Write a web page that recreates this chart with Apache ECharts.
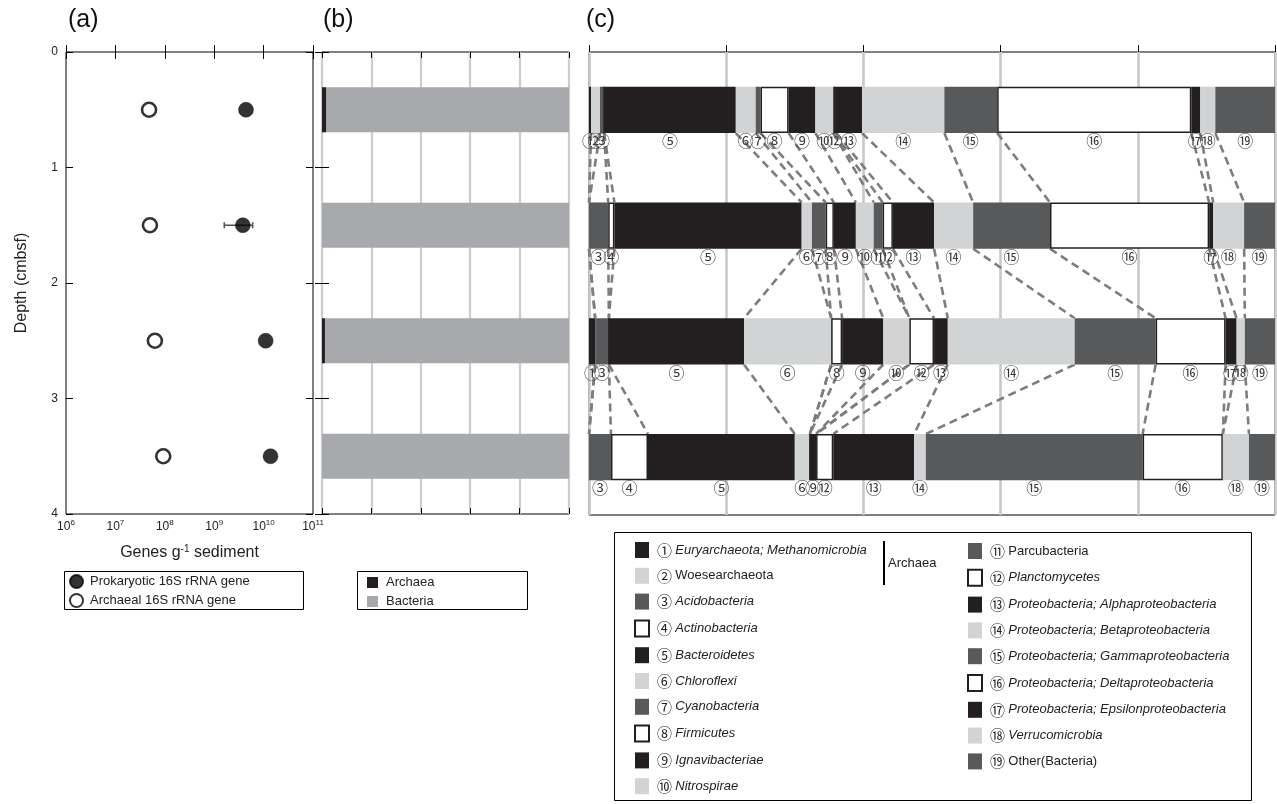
<!DOCTYPE html>
<html><head><meta charset="utf-8">
<script src="https://cdn.jsdelivr.net/npm/echarts@6/dist/echarts.min.js"></script>
<style>html,body{margin:0;padding:0;background:#fff}#main{width:1277px;height:804px}</style>
</head><body><div id="main"></div>
<script>
// ---------- DATA ----------
const depths = [0.5, 1.5, 2.5, 3.5];
const depthCats = ['0.5', '1.5', '2.5', '3.5'];
const prokaryotic = [4.4e9, 3.8e9, 1.1e10, 1.38e10];
const prokErrLow = [null, 1.6e9, null, null];
const prokErrHigh = [null, 6.0e9, null, null];
const archaeal16S = [4.8e7, 5.0e7, 6.3e7, 9.3e7];
const archaeaPct = [1.8, 0, 1.2, 0];
const bacteriaPct = [98.2, 100, 98.8, 100];
const taxa = ['Euryarchaeota; Methanomicrobia', 'Woesearchaeota', 'Acidobacteria', 'Actinobacteria',
  'Bacteroidetes', 'Chloroflexi', 'Cyanobacteria', 'Firmicutes', 'Ignavibacteriae', 'Nitrospirae',
  'Parcubacteria', 'Planctomycetes', 'Proteobacteria; Alphaproteobacteria', 'Proteobacteria; Betaproteobacteria',
  'Proteobacteria; Gammaproteobacteria', 'Proteobacteria; Deltaproteobacteria', 'Proteobacteria; Epsilonproteobacteria',
  'Verrucomicrobia', 'Other(Bacteria)'];
const circled = ['①','②','③','④','⑤','⑥','⑦','⑧','⑨','⑩','⑪','⑫','⑬','⑭','⑮','⑯','⑰','⑱','⑲'];
const uprightTaxa = ['Woesearchaeota', 'Parcubacteria', 'Other(Bacteria)'];
// relative abundance (%) per taxon, rows = depth 0.5, 1.5, 2.5, 3.5
const row1 = [0.3, 1.3, 0.6, 0, 19.2, 2.9, 0.7, 4.1, 3.9, 2.6, 0, 0.4, 3.8, 12.0, 7.7, 28.3, 1.3, 2.2, 8.7];
const row2 = [0, 0, 2.8, 0.9, 27.3, 1.5, 2.0, 1.2, 3.2, 2.6, 1.3, 1.5, 6.0, 5.7, 11.2, 23.2, 0.6, 4.5, 4.5];
const row3 = [0.9, 0, 2.0, 0, 19.7, 12.7, 0, 1.6, 6.0, 3.8, 0, 3.6, 2.0, 18.5, 11.8, 10.2, 1.6, 1.2, 4.4];
const row4 = [0, 0, 3.2, 5.4, 21.4, 2.2, 0, 0, 0.9, 0, 0, 2.5, 11.8, 1.7, 31.6, 11.7, 0, 3.8, 3.8];

// ---------- STYLE ----------
const FONT = 'Liberation Sans, Arial, Helvetica, sans-serif';
const CJK = 'Noto Sans CJK JP';
const BLACK = '#231f20', LIGHT = '#d1d3d4', DARK = '#58595b';
const cycle = [
  {color: BLACK},
  {color: LIGHT},
  {color: DARK},
  {color: '#ffffff', borderColor: '#231f20', borderWidth: 1.5}
];
const rows = [row1, row2, row3, row4];

const chart = echarts.init(document.getElementById('main'));

const series = [];
series.push({
  name: 'Prokaryotic 16S rRNA gene', type: 'scatter', xAxisIndex: 0, yAxisIndex: 0,
  symbol: 'circle', symbolSize: 15, z: 5,
  itemStyle: {color: '#000', borderColor: '#000', borderWidth: 0.5},
  data: depths.map((d, i) => [prokaryotic[i], d])
});
series.push({
  name: 'Archaeal 16S rRNA gene', type: 'scatter', xAxisIndex: 0, yAxisIndex: 0,
  symbol: 'circle', symbolSize: 14, z: 5,
  itemStyle: {color: '#fff', borderColor: '#000', borderWidth: 2.6},
  data: depths.map((d, i) => [archaeal16S[i], d])
});
series.push({
  type: 'custom', xAxisIndex: 0, yAxisIndex: 0, z: 3, silent: true,
  encode: {x: [0, 2], y: 1},
  data: depths.map((d, i) => prokErrLow[i] == null ? null : [prokErrLow[i], d, prokErrHigh[i]]).filter(v => v),
  renderItem: (params, api) => {
    const p1 = api.coord([api.value(0), api.value(1)]);
    const p2 = api.coord([api.value(2), api.value(1)]);
    const st = {stroke: '#555', lineWidth: 1.6};
    return {type: 'group', children: [
      {type: 'line', shape: {x1: p1[0], y1: p1[1], x2: p2[0], y2: p2[1]}, style: st},
      {type: 'line', shape: {x1: p1[0], y1: p1[1] - 3, x2: p1[0], y2: p1[1] + 3}, style: st},
      {type: 'line', shape: {x1: p2[0], y1: p2[1] - 3, x2: p2[0], y2: p2[1] + 3}, style: st}
    ]};
  }
});
// panel (b)
series.push({name: 'Archaea', type: 'bar', stack: 'b', xAxisIndex: 2, yAxisIndex: 2, barWidth: '39%',
  itemStyle: {color: BLACK}, data: archaeaPct});
series.push({name: 'Bacteria', type: 'bar', stack: 'b', xAxisIndex: 2, yAxisIndex: 2, barWidth: '39%',
  itemStyle: {color: '#a7a9ac'}, data: bacteriaPct});
// panel (c)
taxa.forEach((t, i) => {
  series.push({
    name: t, type: 'bar', stack: 'c', xAxisIndex: 4, yAxisIndex: 4, barWidth: '40%', z: 4,
    itemStyle: cycle[i % 4],
    label: {show: true, position: 'bottom', distance: 0, fontFamily: CJK, fontSize: 16, color: '#3a3a3a',
      formatter: p => (p.value > 0 ? circled[i] : '')},
    data: rows.map(r => r[i])
  });
});
// connecting dashed lines between cumulative boundaries
const cum = rows.map(r => { let s = 0; return r.map(v => (s += v)); });
const linkData = [];
for (let k = 0; k < rows.length - 1; k++) {
  for (let i = 0; i < taxa.length - 1; i++) {
    linkData.push({coords: [[cum[k][i], depths[k] + 0.2], [cum[k + 1][i], depths[k + 1] - 0.2]]});
  }
}
series.push({
  type: 'lines', coordinateSystem: 'cartesian2d', xAxisIndex: 4, yAxisIndex: 5, z: 2, silent: true,
  lineStyle: {color: '#7d7d7d', width: 2.6, type: [8, 5], opacity: 1},
  data: linkData
});

const supRich = {
  b: {fontSize: 12, fontFamily: FONT, color: '#222', verticalAlign: 'bottom'},
  s: {fontSize: 8, fontFamily: FONT, color: '#222', verticalAlign: 'bottom', padding: [0, 0, 6, 0]}
};
const tickIn = (len) => ({show: true, inside: true, length: len, lineStyle: {color: '#000', width: 1}});
const gridBase = {show: true, borderColor: '#000', borderWidth: 1, backgroundColor: 'transparent'};
const taxaLegendText = {padding: [0, 0, 0, 3], rich: {
  n: {fontFamily: CJK, fontSize: 15, color: '#222'},
  i: {fontFamily: FONT, fontSize: 13, fontStyle: 'italic', color: '#222'},
  r: {fontFamily: FONT, fontSize: 13, color: '#222'}}};
const taxaFmt = name => '{n|' + circled[taxa.indexOf(name)] + '} {' + (uprightTaxa.includes(name) ? 'r' : 'i') + '|' + name + '}';

const option = {
  animation: false,
  textStyle: {fontFamily: FONT},
  grid: [
    Object.assign({left: 66, top: 52, width: 247, height: 462}, gridBase),
    Object.assign({left: 322, top: 52, width: 247, height: 462}, gridBase),
    Object.assign({left: 589, top: 52, width: 686, height: 463}, gridBase)
  ],
  xAxis: [
    {gridIndex: 0, type: 'log', logBase: 10, min: 1e6, max: 1e11, position: 'bottom',
      axisLine: {show: false}, axisTick: tickIn(7), splitLine: {show: false},
      axisLabel: {margin: 5, formatter: v => '{b|10}{s|' + Math.round(Math.log10(v)) + '}', rich: supRich},
      name: '{b|Genes g}{s|-1}{b| sediment}', nameLocation: 'middle', nameGap: 30,
      nameTextStyle: {rich: {b: {fontSize: 16, fontFamily: FONT, color: '#222', verticalAlign: 'bottom'},
        s: {fontSize: 10, fontFamily: FONT, color: '#222', verticalAlign: 'bottom', padding: [0, 0, 7, 0]}}}},
    {gridIndex: 0, type: 'log', logBase: 10, min: 1e6, max: 1e11, position: 'top',
      axisLine: {show: false}, axisTick: tickIn(7), axisLabel: {show: false}, splitLine: {show: false}},
    {gridIndex: 1, type: 'value', min: 0, max: 100, interval: 20, position: 'bottom',
      axisLine: {show: false}, axisTick: tickIn(6), axisLabel: {show: false},
      splitLine: {show: true, lineStyle: {color: '#cdcdcd', width: 2.2}}},
    {gridIndex: 1, type: 'value', min: 0, max: 100, interval: 20, position: 'top',
      axisLine: {show: false}, axisTick: tickIn(6), axisLabel: {show: false}, splitLine: {show: false}},
    {gridIndex: 2, type: 'value', min: 0, max: 100, interval: 20, position: 'bottom',
      axisLine: {show: false}, axisTick: tickIn(7), axisLabel: {show: false},
      splitLine: {show: true, lineStyle: {color: '#c8c8c8', width: 2.6}}}
  ],
  yAxis: [
    {gridIndex: 0, type: 'value', min: 0, max: 4, interval: 1, inverse: true, position: 'left',
      axisLine: {show: false}, axisTick: tickIn(7), splitLine: {show: false},
      axisLabel: {fontSize: 12, color: '#222', margin: 8},
      name: 'Depth (cmbsf)', nameLocation: 'middle', nameGap: 36,
      nameTextStyle: {fontSize: 16, color: '#222'}},
    {gridIndex: 0, type: 'value', min: 0, max: 4, interval: 1, inverse: true, position: 'right',
      axisLine: {show: false}, axisTick: tickIn(7), axisLabel: {show: false}, splitLine: {show: false}},
    {gridIndex: 1, type: 'category', data: depthCats, inverse: true, position: 'left',
      axisLine: {show: false}, axisTick: tickIn(7), axisLabel: {show: false}},
    {gridIndex: 1, type: 'category', data: depthCats, inverse: true, position: 'right',
      axisLine: {show: false}, axisTick: tickIn(7), axisLabel: {show: false}},
    {gridIndex: 2, type: 'category', data: depthCats, inverse: true, position: 'left',
      axisLine: {show: false}, axisTick: {show: false}, axisLabel: {show: false}},
    {gridIndex: 2, type: 'value', min: 0, max: 4, inverse: true, show: false}
  ],
  legend: [
    {orient: 'vertical', left: 69, top: 574, padding: 0, itemWidth: 13, itemHeight: 13, itemGap: 4,
      selectedMode: false, icon: 'circle', textStyle: {fontSize: 13, color: '#222', fontFamily: FONT, padding: [0, 0, 0, 2]},
      data: ['Prokaryotic 16S rRNA gene', 'Archaeal 16S rRNA gene']},
    {orient: 'vertical', left: 367, top: 576, padding: 0, itemWidth: 11, itemHeight: 11, itemGap: 6,
      selectedMode: false, icon: 'rect', textStyle: {fontSize: 13, color: '#222', fontFamily: FONT, padding: [0, 0, 0, 3]},
      data: ['Archaea', 'Bacteria']},
    {orient: 'vertical', left: 634, top: 542, padding: 0, itemWidth: 14, itemHeight: 16, itemGap: 9.8,
      selectedMode: false, icon: 'rect', formatter: taxaFmt, textStyle: taxaLegendText,
      data: taxa.slice(0, 10)},
    {orient: 'vertical', left: 967, top: 543, padding: 0, itemWidth: 14, itemHeight: 16, itemGap: 9.8,
      selectedMode: false, icon: 'rect', formatter: taxaFmt, textStyle: taxaLegendText,
      data: taxa.slice(10)}
  ],
  graphic: [
    {type: 'text', left: 68, top: 8, style: {text: '(a)', fontSize: 25, fontFamily: FONT, fill: '#111'}},
    {type: 'text', left: 323, top: 8, style: {text: '(b)', fontSize: 25, fontFamily: FONT, fill: '#111'}},
    {type: 'text', left: 586, top: 8, style: {text: '(c)', fontSize: 25, fontFamily: FONT, fill: '#111'}},
    {type: 'rect', shape: {x: 64.5, y: 571.5, width: 239, height: 38}, style: {fill: 'none', stroke: '#000', lineWidth: 1}},
    {type: 'rect', shape: {x: 357.5, y: 571.5, width: 170, height: 38}, style: {fill: 'none', stroke: '#000', lineWidth: 1}},
    {type: 'rect', shape: {x: 614.5, y: 532.5, width: 637, height: 268}, style: {fill: 'none', stroke: '#000', lineWidth: 1}},
    {type: 'line', shape: {x1: 884, y1: 541, x2: 884, y2: 585}, style: {stroke: '#000', lineWidth: 2}},
    {type: 'text', x: 888, y: 563, style: {text: 'Archaea', fontSize: 13, fontFamily: FONT, fill: '#222', verticalAlign: 'middle'}}
  ],
  series: series
};
chart.setOption(option);
</script>
</body></html>
